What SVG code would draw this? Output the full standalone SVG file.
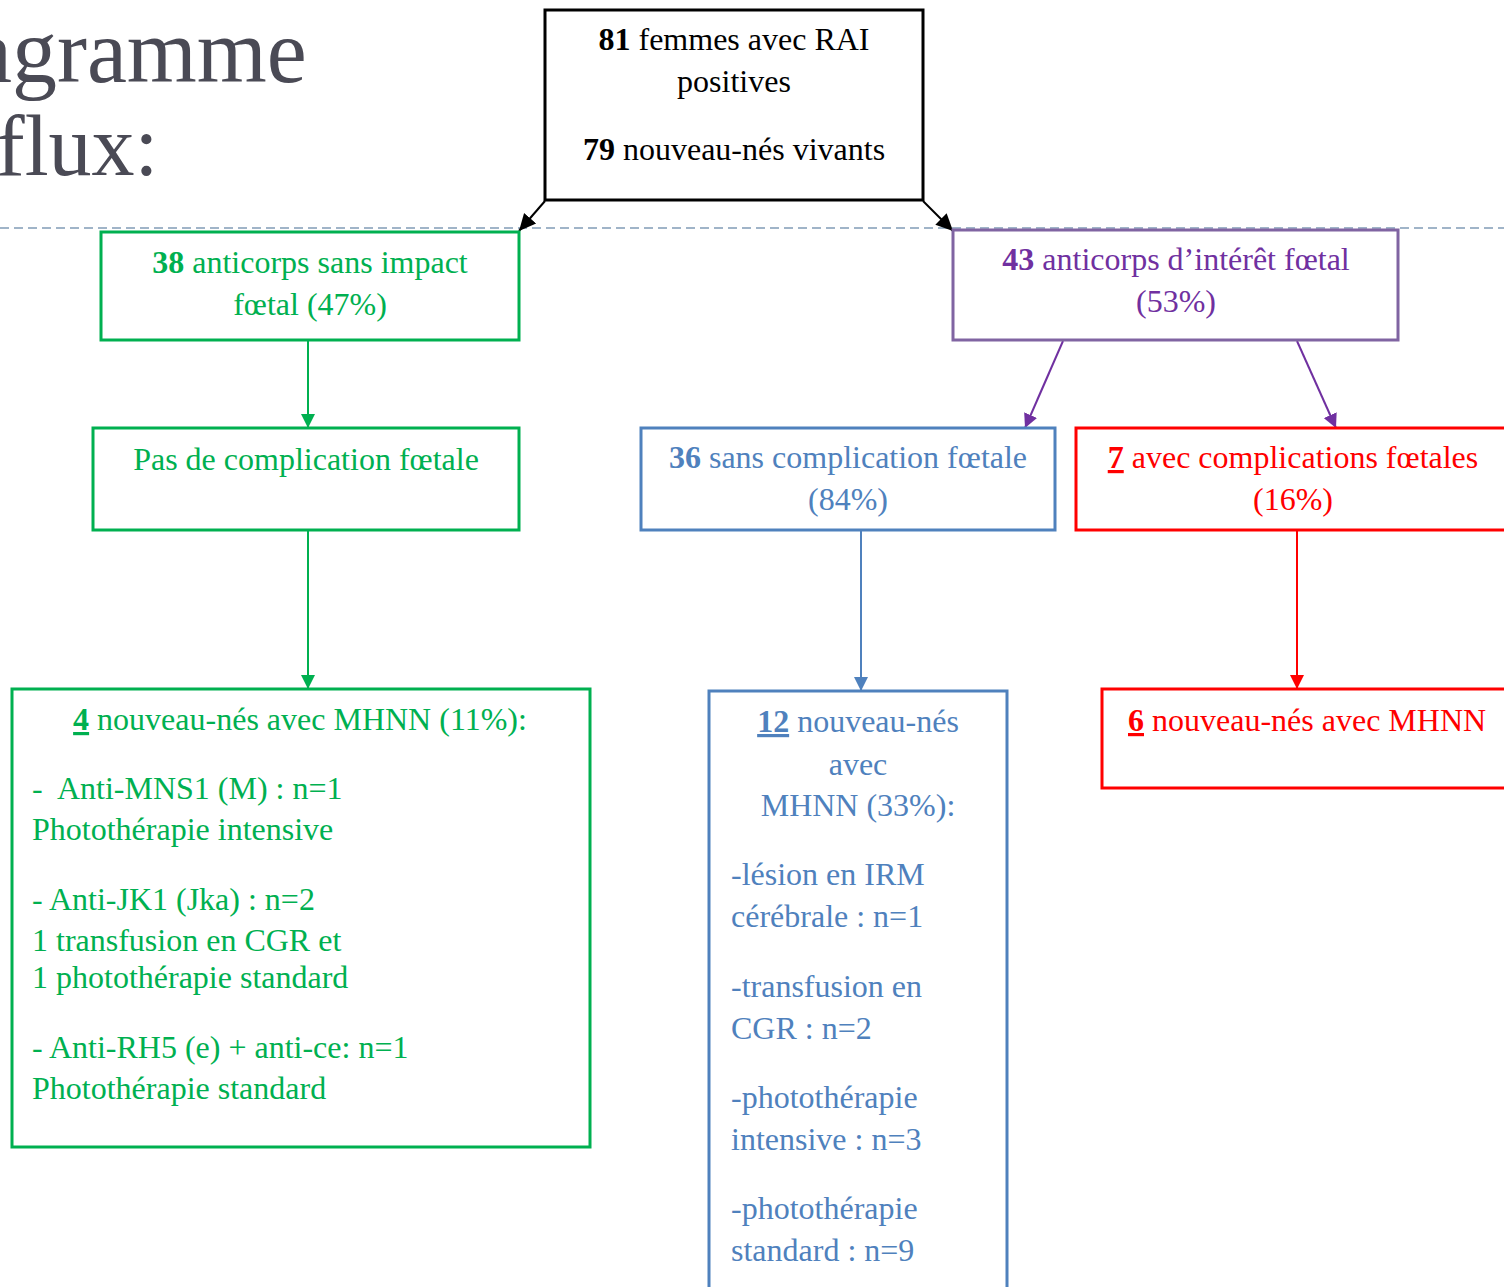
<svg xmlns="http://www.w3.org/2000/svg" width="1504" height="1287" viewBox="0 0 1504 1287">
<style>
text{font-family:"Liberation Serif","Times New Roman",serif;font-size:32px}
.title{font-size:90px;fill:#4a4a55}
.c{text-anchor:middle}
.b{font-weight:bold}
.u{font-weight:bold;text-decoration:underline}
.box{fill:#fff;stroke-width:3}
.blk{fill:#000}.blkS{stroke:#000}
.grn{fill:#00b050}.grnS{stroke:#00b050}
.pur{fill:#7030a0}.purS{stroke:#8064a2}
.blu{fill:#4f81bd}.bluS{stroke:#4f81bd}
.red{fill:#ff0000}.redS{stroke:#ff0000}
.con{fill:none;stroke-width:2}
</style>
<defs>
<marker id="aK" markerUnits="userSpaceOnUse" markerWidth="18" markerHeight="18" refX="17" refY="9" orient="auto"><path d="M0,1 L17,9 L0,17 z" fill="#000"/></marker>
<marker id="aG" markerUnits="userSpaceOnUse" markerWidth="14" markerHeight="14" refX="14" refY="7" orient="auto"><path d="M0,0 L14,7 L0,14 z" fill="#00b050"/></marker>
<marker id="aP" markerUnits="userSpaceOnUse" markerWidth="14" markerHeight="14" refX="14" refY="7" orient="auto"><path d="M0,0 L14,7 L0,14 z" fill="#7030a0"/></marker>
<marker id="aB" markerUnits="userSpaceOnUse" markerWidth="14" markerHeight="14" refX="14" refY="7" orient="auto"><path d="M0,0 L14,7 L0,14 z" fill="#4f81bd"/></marker>
<marker id="aR" markerUnits="userSpaceOnUse" markerWidth="14" markerHeight="14" refX="14" refY="7" orient="auto"><path d="M0,0 L14,7 L0,14 z" fill="#ff0000"/></marker>
</defs>
<rect width="1504" height="1287" fill="#fff"/>
<g id="title">
<text class="title" x="-28" y="82">agramme</text>
<text class="title" x="-4" y="175" style="font-size:86px">flux:</text>
<line x1="0" y1="228" x2="1504" y2="228" stroke="#a0b4c8" stroke-width="2" stroke-dasharray="9,5"/>
</g>
<g id="connectors">
<line class="con" x1="545" y1="201" x2="519" y2="231" stroke="#000" stroke-width="2.5" marker-end="url(#aK)"/>
<line class="con" x1="923" y1="201" x2="953" y2="231" stroke="#000" stroke-width="2.5" marker-end="url(#aK)"/>
<line class="con" x1="308" y1="341" x2="308" y2="428" stroke="#00b050" marker-end="url(#aG)"/>
<line class="con" x1="308" y1="531" x2="308" y2="689" stroke="#00b050" marker-end="url(#aG)"/>
<line class="con" x1="1063" y1="341" x2="1025" y2="428" stroke="#7030a0" marker-end="url(#aP)"/>
<line class="con" x1="1297" y1="341" x2="1336" y2="428" stroke="#7030a0" marker-end="url(#aP)"/>
<line class="con" x1="861" y1="531" x2="861" y2="691" stroke="#4f81bd" marker-end="url(#aB)"/>
<line class="con" x1="1297" y1="531" x2="1297" y2="689" stroke="#ff0000" marker-end="url(#aR)"/>
</g>
<g id="n-top">
<rect class="box blkS" x="545" y="10" width="378" height="190"/>
<text class="c blk" x="734" y="50"><tspan class="b">81</tspan> femmes avec RAI</text>
<text class="c blk" x="734" y="92">positives</text>
<text class="c blk" x="734" y="160"><tspan class="b">79</tspan> nouveau-nés vivants</text>
</g>
<g id="n-sans-impact">
<rect class="box grnS" x="101" y="232" width="418" height="108"/>
<text class="c grn" x="310" y="273"><tspan class="b">38</tspan> anticorps sans impact</text>
<text class="c grn" x="310" y="315">fœtal (47%)</text>
</g>
<g id="n-pas-complication">
<rect class="box grnS" x="93" y="428" width="426" height="102"/>
<text class="c grn" x="306" y="470">Pas de complication fœtale</text>
</g>
<g id="n-4-mhnn">
<rect class="box grnS" x="12" y="689" width="578" height="458"/>
<text class="c grn" x="300" y="730"><tspan class="u">4</tspan> nouveau-nés avec MHNN (11%):</text>
<text class="grn" x="32" y="799" xml:space="preserve">-  Anti-MNS1 (M) : n=1</text>
<text class="grn" x="32" y="840">Photothérapie intensive</text>
<text class="grn" x="32" y="910">- Anti-JK1 (Jka) : n=2</text>
<text class="grn" x="32" y="951">1 transfusion en CGR et</text>
<text class="grn" x="32" y="988">1 photothérapie standard</text>
<text class="grn" x="32" y="1058">- Anti-RH5 (e) + anti-ce: n=1</text>
<text class="grn" x="32" y="1099">Photothérapie standard</text>
</g>
<g id="n-interet">
<rect class="box purS" x="953" y="230" width="445" height="110"/>
<text class="c pur" x="1176" y="270"><tspan class="b">43</tspan> anticorps d’intérêt fœtal</text>
<text class="c pur" x="1176" y="312">(53%)</text>
</g>
<g id="n-36">
<rect class="box bluS" x="641" y="428" width="414" height="102"/>
<text class="c blu" x="848" y="468"><tspan class="b">36</tspan> sans complication fœtale</text>
<text class="c blu" x="848" y="510">(84%)</text>
</g>
<g id="n-12">
<rect class="box bluS" x="709" y="691" width="298" height="620"/>
<text class="c blu" x="858" y="732"><tspan class="u">12</tspan> nouveau-nés</text>
<text class="c blu" x="858" y="775">avec</text>
<text class="c blu" x="858" y="816">MHNN (33%):</text>
<text class="blu" x="731" y="885">-lésion en IRM</text>
<text class="blu" x="731" y="927">cérébrale : n=1</text>
<text class="blu" x="731" y="997">-transfusion en</text>
<text class="blu" x="731" y="1039">CGR : n=2</text>
<text class="blu" x="731" y="1108">-photothérapie</text>
<text class="blu" x="731" y="1150">intensive : n=3</text>
<text class="blu" x="731" y="1219">-photothérapie</text>
<text class="blu" x="731" y="1261">standard : n=9</text>
</g>
<g id="n-7">
<rect class="box redS" x="1076" y="428" width="440" height="102"/>
<text class="c red" x="1293" y="468"><tspan class="u">7</tspan> avec complications fœtales</text>
<text class="c red" x="1293" y="510">(16%)</text>
</g>
<g id="n-6">
<rect class="box redS" x="1102" y="689" width="420" height="99"/>
<text class="red" x="1128" y="731"><tspan class="u">6</tspan> nouveau-nés avec MHNN</text>
</g>
</svg>
